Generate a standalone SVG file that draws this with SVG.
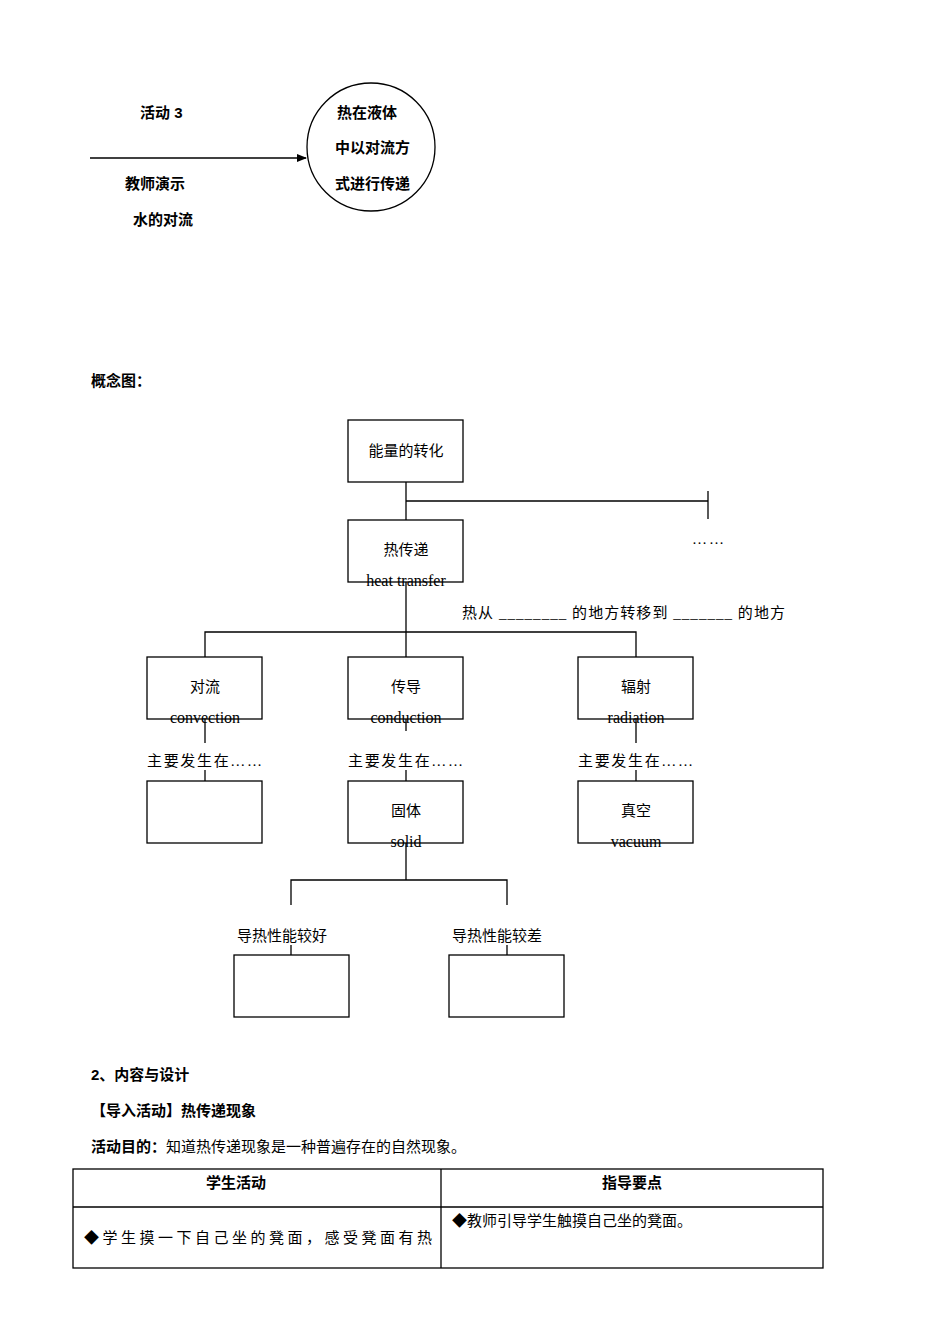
<svg xmlns="http://www.w3.org/2000/svg" width="950" height="1344" viewBox="0 0 950 1344">
<style>
text{font-family:"Liberation Serif","Noto Sans CJK SC",serif;font-size:15px;fill:#000}
.e{font-size:16px}
.b{font-family:"Liberation Sans","Noto Sans CJK SC",sans-serif;font-weight:bold}
.c{text-anchor:middle}
rect,circle{fill:#fff;stroke:#000;stroke-width:1.3}
line,path{stroke:#000;stroke-width:1.3;fill:none}
path.h{fill:#000;stroke:none}
</style>
<defs><marker id="a" markerWidth="10" markerHeight="8" refX="9" refY="4" orient="auto" markerUnits="userSpaceOnUse"><path class="h" d="M0,0L10,4L0,8Z"/></marker></defs>
<rect x="0" y="0" width="950" height="1344" style="fill:#fff;stroke:none"/>
<g id="connectors">
<line x1="90" y1="158" x2="306" y2="158" marker-end="url(#a)"/>
<line x1="406" y1="482" x2="406" y2="520"/>
<line x1="406" y1="501" x2="708" y2="501"/>
<line x1="708" y1="491" x2="708" y2="519"/>
<line x1="406" y1="582" x2="406" y2="657"/>
<path d="M205,657V632H636V657"/>
<line x1="205" y1="719" x2="205" y2="743"/>
<line x1="406" y1="719" x2="406" y2="731"/>
<line x1="636" y1="719" x2="636" y2="743"/>
<line x1="205" y1="770" x2="205" y2="781"/>
<line x1="406" y1="770" x2="406" y2="781"/>
<line x1="636" y1="770" x2="636" y2="781"/>
<line x1="406" y1="843" x2="406" y2="880"/>
<path d="M291,905V880H507V905"/>
<line x1="291" y1="945" x2="291" y2="955"/>
<line x1="507" y1="945" x2="507" y2="955"/>
</g>
<g id="activity3"><text class="b" x="140" y="118">活动 3</text><text class="b" x="125" y="189">教师演示</text><text class="b" x="133" y="225">水的对流</text></g>
<g id="circle"><circle cx="371" cy="147" r="64"/><text class="b" x="337" y="118">热在液体</text><text class="b" x="335" y="153">中以对流方</text><text class="b" x="335" y="189">式进行传递</text></g>
<text class="b" x="91" y="386">概念图：</text>
<g id="n1"><rect x="348" y="420" width="115" height="62"/><text class="c" x="406" y="456">能量的转化</text></g>
<g id="dots"><text class="c" x="708" y="544" textLength="32">……</text></g>
<g id="n2"><rect x="348" y="520" width="115" height="62"/><text class="c" x="406" y="555">热传递</text><text class="c e" x="406" y="586">heat transfer</text></g>
<text x="462" y="618" textLength="323">热从 ________ 的地方转移到 _______ 的地方</text>
<g id="n3"><rect x="147" y="657" width="115" height="62"/><text class="c" x="205" y="692">对流</text><text class="c e" x="205" y="723">convection</text></g>
<g id="n4"><rect x="348" y="657" width="115" height="62"/><text class="c" x="406" y="692">传导</text><text class="c e" x="406" y="723">conduction</text></g>
<g id="n5"><rect x="578" y="657" width="115" height="62"/><text class="c" x="636" y="692">辐射</text><text class="c e" x="636" y="723">radiation</text></g>
<text x="147" y="766" textLength="115">主要发生在……</text>
<text x="348" y="766" textLength="115">主要发生在……</text>
<text x="578" y="766" textLength="115">主要发生在……</text>
<g id="n6"><rect x="147" y="781" width="115" height="62"/></g>
<g id="n7"><rect x="348" y="781" width="115" height="62"/><text class="c" x="406" y="816">固体</text><text class="c e" x="406" y="847">solid</text></g>
<g id="n8"><rect x="578" y="781" width="115" height="62"/><text class="c" x="636" y="816">真空</text><text class="c e" x="636" y="847">vacuum</text></g>
<text class="c" x="282" y="941">导热性能较好</text>
<text class="c" x="497" y="941">导热性能较差</text>
<g id="n9"><rect x="234" y="955" width="115" height="62"/></g>
<g id="n10"><rect x="449" y="955" width="115" height="62"/></g>
<text class="b" x="91" y="1080">2、内容与设计</text>
<text class="b" x="91" y="1116">【导入活动】热传递现象</text>
<text x="91" y="1152"><tspan class="b">活动目的：</tspan>知道热传递现象是一种普遍存在的自然现象。</text>
<g id="table">
<rect x="73" y="1169" width="750" height="99" style="fill:none"/>
<line x1="73" y1="1207" x2="823" y2="1207"/>
<line x1="441" y1="1169" x2="441" y2="1268"/>
<text class="b c" x="236" y="1188">学生活动</text>
<text class="b c" x="632" y="1188">指导要点</text>
<text x="84" y="1243" textLength="348">◆学生摸一下自己坐的凳面，感受凳面有热</text>
<text x="452" y="1226">◆教师引导学生触摸自己坐的凳面。</text>
</g>
</svg>
